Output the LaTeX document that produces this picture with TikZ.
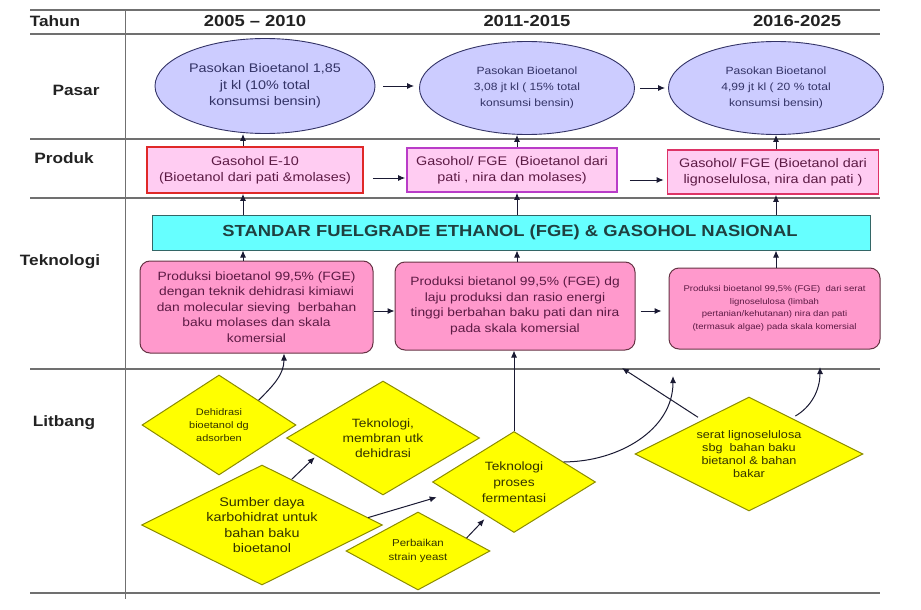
\documentclass[tikz,border=0pt]{standalone}
\usepackage{fontspec}
\setmainfont[FakeStretch=1.15]{Liberation Sans}
\usetikzlibrary{arrows.meta,shapes.geometric,calc}
\definecolor{ellfill}{HTML}{CCCCFF}
\definecolor{elldraw}{HTML}{333366}
\definecolor{elltextc}{HTML}{333366}
\definecolor{prodfill}{HTML}{FFCCF2}
\definecolor{tekfill}{HTML}{FF99CC}
\definecolor{tekdraw}{HTML}{663344}
\definecolor{boxtext}{HTML}{5C1A44}
\definecolor{barfill}{HTML}{66FFFF}
\definecolor{bardraw}{HTML}{336666}
\definecolor{bartext}{HTML}{1F4040}
\definecolor{diafill}{HTML}{FFFF00}
\definecolor{diadraw}{HTML}{8C8C00}
\definecolor{diatextc}{HTML}{333300}
\definecolor{rulecol}{HTML}{707070}
\definecolor{labcol}{HTML}{222222}
\definecolor{arrcol}{HTML}{1A1A33}
\definecolor{pone}{HTML}{E02828}
\definecolor{ptwo}{HTML}{B93CC8}
\definecolor{pthree}{HTML}{DD3366}
\begin{document}
\begin{tikzpicture}[x=1pt,y=-1pt,
  rulel/.style={draw=rulecol, line width=1.4pt},
  arr/.style={-{Latex[length=7pt,width=6pt]}, line width=1pt, draw=arrcol},
  ell/.style={ellipse, draw=elldraw, fill=ellfill, line width=0.9pt, inner sep=0pt},
  elltext/.style={text=elltextc, align=center},
  prod/.style={rectangle, fill=prodfill, line width=1.6pt, inner sep=0pt, align=center, text=boxtext, font=\fontsize{12.5}{16}\selectfont},
  tek/.style={rectangle, rounded corners=10pt, fill=tekfill, draw=tekdraw, line width=1pt, inner sep=0pt, align=center, text=boxtext},
  dia/.style={diamond, fill=diafill, draw=diadraw, line width=1pt, inner sep=0pt},
  diatext/.style={align=center, text=diatextc},
  lab/.style={font=\fontsize{15}{18}\selectfont\bfseries, text=labcol},
  yr/.style={font=\fontsize{16}{18}\selectfont\bfseries, text=labcol}
]
\useasboundingbox (0,0) rectangle (921,610);
\fill[white] (0,0) rectangle (921,610);

% table rules
\draw[rulel] (30,10) -- (880,10);
\draw[rulel] (30,34) -- (880,34);
\draw[rulel] (30,139) -- (880,139);
\draw[rulel] (30,198) -- (880,198);
\draw[rulel] (30,369) -- (880,369);
\draw[rulel] (30,593) -- (880,593);
\draw[draw=rulecol, line width=0.9pt] (125,10) -- (125,599);

% row / column labels
\node[lab] (tahun) at (55,21) {Tahun};
\node[yr] (y1) at (255,21) {2005 – 2010};
\node[yr] (y2) at (527,21) {2011-2015};
\node[yr] (y3) at (797,21) {2016-2025};
\node[lab] (pasar) at (76,90) {Pasar};
\node[lab] (produk) at (64,158) {Produk};
\node[lab] (teknologi) at (60,262) {Teknologi};
\node[lab] (litbang) at (64,423) {Litbang};

% column coordinates
\coordinate (c1) at (243,0);
\coordinate (c2) at (517,0);
\coordinate (c3) at (776,0);

% Pasar
\node[ell, minimum width=220pt, minimum height=95pt] (e1) at (265,86) {};
\node[elltext, font=\fontsize{12.5}{16.5}\selectfont] (e1t) at (e1.center) {Pasokan Bioetanol 1,85\\ jt kl (10\% total\\ konsumsi bensin)};
\node[ell, minimum width=215pt, minimum height=93pt] (e2) at (527,88) {};
\node[elltext, font=\fontsize{10.5}{16}\selectfont] (e2t) at (e2.center) {Pasokan Bioetanol\\ 3,08 jt kl ( 15\% total\\ konsumsi bensin)};
\node[ell, minimum width=215pt, minimum height=93pt] (e3) at (776,88) {};
\node[elltext, font=\fontsize{10.5}{16}\selectfont] (e3t) at (e3.center) {Pasokan Bioetanol\\ 4,99 jt kl ( 20 \% total\\ konsumsi bensin)};

% Produk
\node[prod, draw=pone, minimum width=216pt, minimum height=46pt] (p1) at (255,170) {Gasohol E-10\\ (Bioetanol dari pati \&molases)};
\node[prod, draw=ptwo, minimum width=210pt, minimum height=44pt] (p2) at (512,170) {Gasohol/ FGE~~(Bioetanol dari\\ pati , nira dan molases)};
\node[prod, draw=pthree, minimum width=211pt, minimum height=44pt] (p3) at (773,172) {Gasohol/ FGE (Bioetanol dari\\ lignoselulosa, nira dan pati )};

% Standar bar
\node[rectangle, fill=barfill, draw=bardraw, line width=1pt, minimum width=718pt, minimum height=35pt, inner sep=0pt] (bar) at (511,232.5) {};
\node[text=bartext, font=\fontsize{16}{18}\selectfont\bfseries] (bart) at (510,232.5) {STANDAR FUELGRADE ETHANOL (FGE) \& GASOHOL NASIONAL};

% Teknologi
\node[tek, minimum width=233pt, minimum height=92pt, font=\fontsize{12}{15.5}\selectfont] (t1) at (256.5,307) {Produksi bioetanol 99,5\% (FGE)\\ dengan teknik dehidrasi kimiawi\\ dan molecular sieving~ berbahan\\ baku molases dan skala\\ komersial};
\node[tek, minimum width=240pt, minimum height=88pt, font=\fontsize{12}{15.5}\selectfont] (t2) at (515,306) {Produksi bietanol 99,5\% (FGE) dg\\ laju produksi dan rasio energi\\ tinggi berbahan baku pati dan nira\\ pada skala komersial};
\node[tek, minimum width=211pt, minimum height=81pt, font=\fontsize{8.3}{12.5}\selectfont] (t3) at (774.5,308.5) {Produksi bioetanol 99,5\% (FGE)~ dari serat\\ lignoselulosa (limbah\\ pertanian/kehutanan) nira dan pati\\ (termasuk algae) pada skala komersial};

% Litbang diamonds
\node[dia, minimum width=154pt, minimum height=100pt] (d1) at (219,425) {};
\node[diatext, font=\fontsize{9.5}{13}\selectfont] (d1t) at (d1.center) {Dehidrasi\\ bioetanol dg\\ adsorben};
\node[dia, minimum width=193pt, minimum height=114pt] (d2) at (383,438) {};
\node[diatext, font=\fontsize{12}{15}\selectfont] (d2t) at (d2.center) {Teknologi,\\ membran utk\\ dehidrasi};
\node[dia, minimum width=241pt, minimum height=120pt] (d3) at (262,525) {};
\node[diatext, font=\fontsize{12.5}{15.5}\selectfont] (d3t) at (d3.center) {Sumber daya\\ karbohidrat untuk\\ bahan baku\\ bioetanol};
\node[dia, minimum width=144pt, minimum height=78pt] (d4) at (418,551) {};
\node[diatext, font=\fontsize{10}{14}\selectfont] (d4t) at (d4.center) {Perbaikan\\ strain yeast};
\node[dia, minimum width=163pt, minimum height=101pt] (d5) at (514,482) {};
\node[diatext, font=\fontsize{12}{16}\selectfont] (d5t) at (d5.center) {Teknologi\\ proses\\ fermentasi};
\node[dia, minimum width=228pt, minimum height=114pt] (d6) at (749,454) {};
\node[diatext, font=\fontsize{11}{13}\selectfont] (d6t) at (d6.center) {serat lignoselulosa\\ sbg~ bahan baku\\ bietanol \& bahan\\ bakar};

% free-end coordinates
\coordinate (cd1) at (284,0);
\coordinate (ct3) at (673,376);
\coordinate (ct2) at (622,368);
\coordinate (ct3b) at (820,367);

% horizontal arrows
\draw[arr, shorten <=8pt, shorten >=5pt] (e1.east) -- (e1.east -| e2.west);
\draw[arr, shorten <=5pt, shorten >=3pt] (e2.east) -- (e2.east -| e3.west);
\draw[arr, shorten <=9pt, shorten >=1pt] ($(p1.east)+(0,8)$) -- ($(p1.east -| p2.west)+(0,8)$);
\draw[arr, shorten <=12pt, shorten >=3pt] ($(p2.east)+(0,10)$) -- ($(p2.east -| p3.west)+(0,10)$);
\draw[arr] ($(t1.east)+(0,4)$) -- ($(t1.east -| t2.west)+(0,4)$);
\draw[arr, shorten <=5pt, shorten >=7pt] ($(t2.east)+(0,5)$) -- ($(t2.east -| t3.west)+(0,5)$);

% vertical column arrows
\draw[arr] (p1.north -| c1) -- (e1.south -| c1);
\draw[arr] (bar.north -| c1) -- (p1.south -| c1);
\draw[arr] (t1.north -| c1) -- (bar.south -| c1);
\draw[arr] (p2.north -| c2) -- (e2.south -| c2);
\draw[arr] (bar.north -| c2) -- (p2.south -| c2);
\draw[arr] (t2.north -| c2) -- (bar.south -| c2);
\draw[arr] (p3.north -| c3) -- (e3.south -| c3);
\draw[arr] (bar.north -| c3) -- (p3.south -| c3);
\draw[arr] (t3.north -| c3) -- (bar.south -| c3);

% litbang connectors
\draw[arr] (d1.32) to[out=45, in=-90] (t1.south -| cd1);
\draw[arr, shorten >=2pt] (d3.57) -- (d2.195);
\draw[arr, shorten >=14pt] (d3.4) -- (d5.190);
\draw[arr, shorten >=4pt] (d4.15) -- (d5.232);
\draw[arr] (d5.north) -- (d5.north |- t2.south);
\draw[arr] (d5.22) to[out=0, in=-90] (ct3);
\draw[arr, shorten <=5pt] (d6.144) -- (ct2);
\draw[arr, shorten <=4pt] (d6.40) to[out=30, in=-90] (ct3b);
\end{tikzpicture}
\end{document}
